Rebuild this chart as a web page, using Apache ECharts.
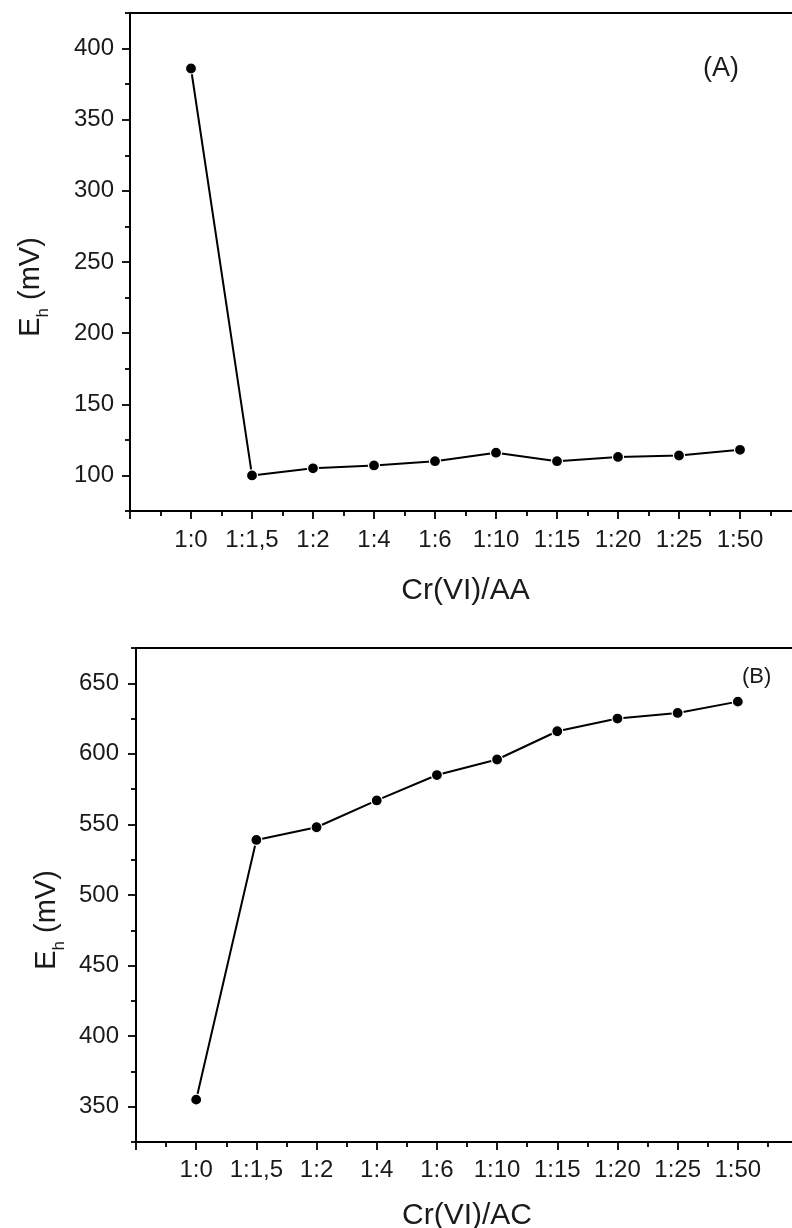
<!DOCTYPE html>
<html>
<head>
<meta charset="utf-8">
<script src="https://cdn.jsdelivr.net/npm/echarts@6/dist/echarts.min.js"></script>
<style>
html,body{margin:0;padding:0;background:#fff;}
#c{width:792px;height:1228px;}
</style>
</head>
<body>
<div id="c"></div>
<script>
// ---- data ----
const categories = ['1:0', '1:1,5', '1:2', '1:4', '1:6', '1:10', '1:15', '1:20', '1:25', '1:50'];
const ehAA = [386, 100, 105, 107, 110, 116, 110, 113, 114, 118];
const ehAC = [355, 539, 548, 567, 585, 596, 616, 625, 629, 637];
const yMajorA = [100, 150, 200, 250, 300, 350, 400];
const yMinorA = [75, 125, 175, 225, 275, 325, 375, 425];
const yMajorB = [350, 400, 450, 500, 550, 600, 650];
const yMinorB = [325, 375, 425, 475, 525, 575, 625, 675];
const xTitleA = 'Cr(VI)/AA';
const xTitleB = 'Cr(VI)/AC';
const panelLabelA = '(A)';
const panelLabelB = '(B)';

const FONT = 'Liberation Sans, Arial, sans-serif';
const TXT = '#1a1a1a';

function xAxisFor(gi, title, gap, margin) {
  return {
    gridIndex: gi, type: 'value', min: 0, max: categories.length + 1, interval: 1,
    axisLine: { show: true, onZero: false, lineStyle: { color: '#000', width: 2 } },
    axisTick: { show: true, length: 8, lineStyle: { color: '#000', width: 1.8 } },
    minorTick: { show: true, splitNumber: 2, length: 5, lineStyle: { color: '#000', width: 1.8 } },
    splitLine: { show: false }, minorSplitLine: { show: false },
    axisLabel: {
      fontFamily: FONT, fontSize: 24, color: TXT, margin: margin,
      formatter: function (v) { return categories[v - 1] || ''; }
    },
    name: title, nameLocation: 'middle', nameGap: gap,
    nameTextStyle: { fontFamily: FONT, fontSize: 30, color: TXT }
  };
}

function yAxesFor(gi, min, max, major, minor, gap, margin, shift) {
  return [{
    gridIndex: gi, type: 'value', min: min, max: max, position: 'left',
    axisLine: { show: true, onZero: false, lineStyle: { color: '#000', width: 2 } },
    axisTick: { show: true, customValues: major, length: 8, lineStyle: { color: '#000', width: 1.8 } },
    axisLabel: { customValues: major, fontFamily: FONT, fontSize: 24, color: TXT, margin: margin },
    splitLine: { show: false },
    name: '{e|E}{h|h}{e| (mV)}', nameLocation: 'middle', nameGap: gap, nameRotate: 90,
    nameTextStyle: {
      fontFamily: FONT, color: TXT, padding: [0, shift, 0, 0],
      rich: {
        e: { fontFamily: FONT, fontSize: 29, lineHeight: 31, color: TXT },
        h: { fontFamily: FONT, fontSize: 17, lineHeight: 17, color: TXT, padding: [26, 0, 0, 0] }
      }
    }
  }, {
    gridIndex: gi, type: 'value', min: min, max: max, position: 'left', offset: 0,
    axisLine: { show: false },
    axisTick: { show: true, customValues: minor, length: 5, lineStyle: { color: '#000', width: 1.8 } },
    axisLabel: { show: false },
    splitLine: { show: false }
  }];
}

function toPoints(vals) {
  return vals.map(function (v, i) { return [i + 1, v]; });
}

const seriesStyle = {
  type: 'line', symbol: 'circle', symbolSize: 11,
  lineStyle: { color: '#000', width: 2 },
  itemStyle: { color: '#000', borderColor: '#fff', borderWidth: 1.2 },
  emphasis: { disabled: true }, animation: false
};

const yA = yAxesFor(0, 75, 425, yMajorA, yMinorA, 84, 16, 50);
const yB = yAxesFor(1, 325, 675, yMajorB, yMinorB, 70, 17, 50);

const option = {
  backgroundColor: '#fff',
  animation: false,
  grid: [
    { left: 130, top: 13, width: 671, height: 498, show: true, borderColor: '#000', borderWidth: 2, backgroundColor: 'transparent', outerBoundsMode: 'none' },
    { left: 136, top: 648, width: 662, height: 494, show: true, borderColor: '#000', borderWidth: 2, backgroundColor: 'transparent', outerBoundsMode: 'none' }
  ],
  xAxis: [xAxisFor(0, xTitleA, 65, 17), xAxisFor(1, xTitleB, 59, 16)],
  yAxis: [yA[0], yA[1], yB[0], yB[1]],
  graphic: [
    { type: 'text', left: 703, top: 55, style: { text: panelLabelA, font: '27px "Liberation Sans", Arial, sans-serif', fill: TXT } },
    { type: 'text', left: 742, top: 666, style: { text: panelLabelB, font: '22px "Liberation Sans", Arial, sans-serif', fill: TXT } }
  ],
  series: [
    Object.assign({}, seriesStyle, { xAxisIndex: 0, yAxisIndex: 0, data: toPoints(ehAA) }),
    Object.assign({}, seriesStyle, { xAxisIndex: 1, yAxisIndex: 2, data: toPoints(ehAC) })
  ]
};

const chart = echarts.init(document.getElementById('c'), null, { renderer: 'canvas' });
chart.setOption(option);
</script>
</body>
</html>
